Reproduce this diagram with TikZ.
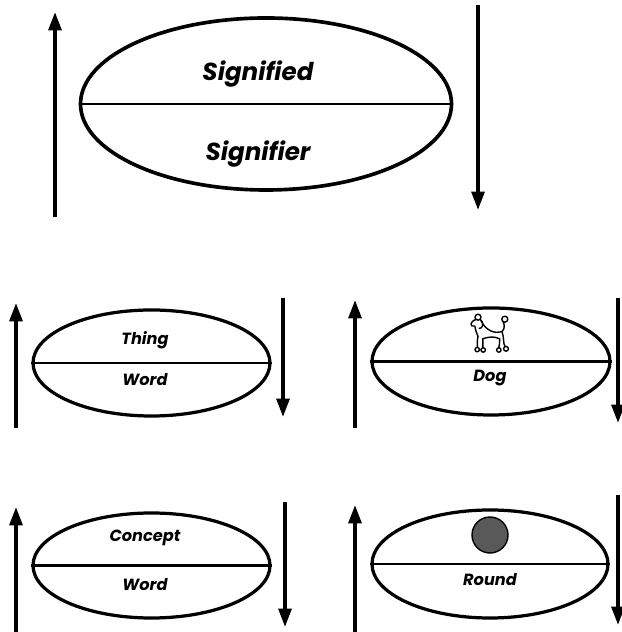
\documentclass[tikz,border=0pt]{standalone}
\usepackage{fontspec}
\setmainfont{Poppins}
\usetikzlibrary{arrows.meta,shapes.geometric}

\tikzset{
  sign/.style={ellipse,draw,line width=2.3pt,inner sep=0pt},
  split/.style={line width=1.6pt},
  uparrow/.style={line width=2.6pt,-{Triangle[length=4.6mm,width=3.2mm]}},
  downarrow/.style={line width=2.6pt,-{Triangle[length=4.6mm,width=3.2mm]}},
  bigtext/.style={font=\fontsize{17.5}{20}\selectfont\bfseries\itshape},
  smalltext/.style={font=\fontsize{11.5}{14}\selectfont\bfseries\itshape},
}

\begin{document}
\begin{tikzpicture}

		\useasboundingbox (0,0) rectangle (15.525,15.8);

		% Signified / Signifier
		\node[sign,line width=2.6pt,minimum width=9.275cm,minimum height=4.3cm] (sign) at (6.65,13.2) {};
		\draw[split] (sign.west) -- (sign.east);
		\node[bigtext] (sign-top) at (6.45,13.95) {Signified};
		\node[bigtext] (sign-bot) at (6.45,11.95) {Signifier};
		\coordinate (sign-up-s) at (1.375,10.375);
		\coordinate (sign-up-e) at (1.375,15.5);
		\coordinate (sign-dn-s) at (11.95,15.675);
		\coordinate (sign-dn-e) at (11.95,10.55);
		\draw[uparrow] (sign-up-s) -- (sign-up-e);
		\draw[downarrow] (sign-dn-s) -- (sign-dn-e);

		% Thing / Word
		\node[sign,minimum width=5.925cm,minimum height=2.65cm] (thing) at (3.7875,6.725) {};
		\draw[split] (thing.west) -- (thing.east);
		\node[smalltext] (thing-top) at (3.625,7.3) {Thing};
		\node[smalltext] (thing-bot) at (3.625,6.3) {Word};
		\coordinate (thing-up-s) at (0.4,5.1);
		\coordinate (thing-up-e) at (0.4,8.225);
		\coordinate (thing-dn-s) at (7.075,8.35);
		\coordinate (thing-dn-e) at (7.075,5.375);
		\draw[uparrow] (thing-up-s) -- (thing-up-e);
		\draw[downarrow] (thing-dn-s) -- (thing-dn-e);

		% Dog
		\node[sign,minimum width=5.95cm,minimum height=2.675cm] (dog) at (12.275,6.7625) {};
		\draw[split] (dog.west) -- (dog.east);
		\node[smalltext] (dog-bot) at (12.25,6.35) {Dog};
		\coordinate (dog-up-s) at (8.875,5.1);
		\coordinate (dog-up-e) at (8.875,8.3);
		\coordinate (dog-dn-s) at (15.45,8.35);
		\coordinate (dog-dn-e) at (15.45,5.225);
		\draw[uparrow] (dog-up-s) -- (dog-up-e);
		\draw[downarrow] (dog-dn-s) -- (dog-dn-e);

		% little poodle
		\begin{scope}[shift={(12.25,7.45)},line width=1pt,line cap=round,line join=round]
			\draw (-0.3,0.42) circle (0.075);
			\draw (-0.36,0.36) .. controls (-0.52,0.3) and (-0.5,0.16) .. (-0.38,0.2)
				.. controls (-0.36,0.1) and (-0.34,0.02) .. (-0.3,-0.06);
			\draw (-0.24,0.36) .. controls (-0.14,0.3) and (-0.18,0.12) .. (-0.27,0.14);
			\draw (-0.22,0.32) .. controls (-0.1,0.1) and (0.08,0.0) .. (0.3,0.06);
			\draw (0.3,0.06) .. controls (0.38,0.14) and (0.36,0.24) .. (0.33,0.3);
			\draw (0.37,0.37) circle (0.075);
			\draw (-0.18,-0.12) .. controls (0,-0.06) and (0.1,-0.06) .. (0.24,-0.12);
			\draw (-0.3,-0.06) .. controls (-0.34,-0.2) and (-0.3,-0.28) .. (-0.32,-0.34);
			\draw (-0.18,-0.12) .. controls (-0.2,-0.2) and (-0.16,-0.28) .. (-0.18,-0.34);
			\draw (0.24,-0.12) .. controls (0.22,-0.2) and (0.26,-0.28) .. (0.22,-0.34);
			\draw (0.3,0.06) .. controls (0.36,-0.1) and (0.32,-0.24) .. (0.38,-0.32);
			\draw (-0.32,-0.39) circle (0.055) (-0.17,-0.4) circle (0.055);
			\draw (0.22,-0.4) circle (0.055) (0.4,-0.37) circle (0.06);
		\end{scope}

		% Concept / Word
		\node[sign,minimum width=5.925cm,minimum height=2.625cm] (concept) at (3.7875,1.6625) {};
		\draw[split] (concept.west) -- (concept.east);
		\node[smalltext] (concept-top) at (3.625,2.35) {Concept};
		\node[smalltext] (concept-bot) at (3.625,1.175) {Word};
		\coordinate (concept-up-s) at (0.4,0.0);
		\coordinate (concept-up-e) at (0.4,3.125);
		\coordinate (concept-dn-s) at (7.125,3.25);
		\coordinate (concept-dn-e) at (7.125,0.125);
		\draw[uparrow] (concept-up-s) -- (concept-up-e);
		\draw[downarrow] (concept-dn-s) -- (concept-dn-e);

		% Round
		\node[sign,minimum width=5.9cm,minimum height=2.7cm] (round) at (12.25,1.7) {};
		\draw[split] (round.west) -- (round.east);
		\node[circle,draw,line width=1pt,fill=black!65,minimum size=0.9cm] (ball) at (12.25,2.425) {};
		\node[smalltext] (round-bot) at (12.25,1.3) {Round};
		\coordinate (round-up-s) at (8.875,0.0);
		\coordinate (round-up-e) at (8.875,3.175);
		\coordinate (round-dn-s) at (15.45,3.425);
		\coordinate (round-dn-e) at (15.45,0.175);
		\draw[uparrow] (round-up-s) -- (round-up-e);
		\draw[downarrow] (round-dn-s) -- (round-dn-e);

	\end{tikzpicture}
\end{document}
